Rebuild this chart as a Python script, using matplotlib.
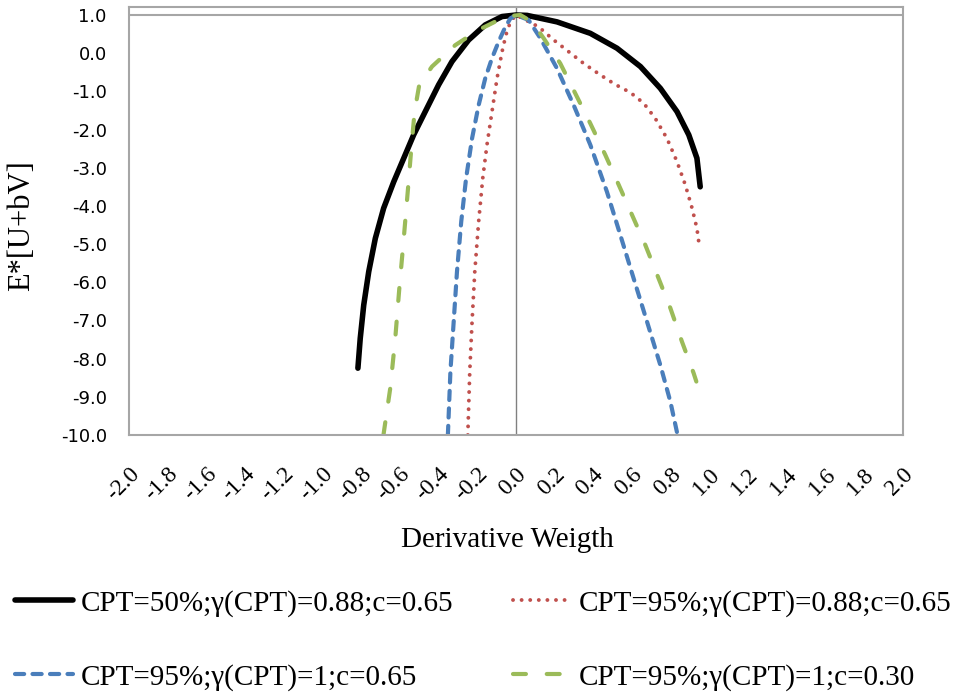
import matplotlib
matplotlib.use("Agg")
import matplotlib.pyplot as plt
import matplotlib.transforms as mtransforms

# series
black_x = [-0.817, -0.805, -0.787, -0.761, -0.727, -0.684, -0.632, -0.580, -0.529,
           -0.469, -0.400, -0.331, -0.245, -0.159, -0.072, 0.0, 0.057, 0.212, 0.384,
           0.522, 0.643, 0.746, 0.832, 0.893, 0.935, 0.952]
black_y = [-8.25, -7.47, -6.60, -5.72, -4.85, -4.06, -3.37, -2.75, -2.14,
           -1.53, -0.83, -0.22, 0.345, 0.74, 0.96, 1.0, 0.99, 0.82, 0.52,
           0.13, -0.35, -0.92, -1.53, -2.14, -2.75, -3.50]

red_x = [-0.249, -0.239, -0.227, -0.213, -0.193, -0.172, -0.150, -0.124, -0.098,
         -0.072, -0.052, -0.029, 0.0, 0.117, 0.195, 0.272, 0.350, 0.436, 0.513,
         0.591, 0.660, 0.720, 0.780, 0.832, 0.875, 0.910, 0.935, 0.949]
red_y = [-10.0, -8.34, -7.03, -5.72, -4.41, -3.28, -2.40, -1.53, -0.66,
         0.04, 0.48, 0.82, 1.0, 0.69, 0.345, 0.04, -0.27, -0.57, -0.82,
         -1.03, -1.31, -1.71, -2.23, -2.84, -3.45, -4.06, -4.59, -5.11]

blue_x = [-0.352, -0.339, -0.322, -0.305, -0.283, -0.258, -0.227, -0.193, -0.159,
          -0.124, -0.090, -0.055, -0.029, 0.0, 0.065, 0.126, 0.212, 0.298, 0.384,
          0.470, 0.539, 0.608, 0.677, 0.746, 0.798, 0.835]
blue_y = [-10.0, -8.34, -7.03, -5.72, -4.41, -3.28, -2.23, -1.36, -0.66,
          -0.13, 0.30, 0.69, 0.91, 1.0, 0.87, 0.39, -0.40, -1.36, -2.40,
          -3.63, -4.76, -5.90, -7.03, -8.17, -9.13, -10.0]

green_x = [-0.685, -0.650, -0.624, -0.603, -0.580, -0.558, -0.541, -0.524, -0.500,
           -0.434, -0.314, -0.193, -0.090, -0.020, 0.022, 0.083, 0.143, 0.229,
           0.306, 0.384, 0.462, 0.531, 0.600, 0.668, 0.737, 0.798, 0.858, 0.918, 0.932]
green_y = [-10.0, -8.78, -7.47, -6.16, -4.85, -3.54, -2.49, -1.53, -0.83,
           -0.35, 0.21, 0.61, 0.87, 0.98, 1.0, 0.82, 0.39, -0.27,
           -1.05, -1.84, -2.67, -3.45, -4.24, -5.02, -5.90, -6.68, -7.56, -8.38, -8.60]

labels = ["CPT=50%;γ(CPT)=0.88;c=0.65",
          "CPT=95%;γ(CPT)=0.88;c=0.65",
          "CPT=95%;γ(CPT)=1;c=0.65",
          "CPT=95%;γ(CPT)=1;c=0.30"]

x_ticks = [round(-2.0 + 0.2 * i, 1) for i in range(21)]
y_ticks = list(range(-10, 2))

serif = "Liberation Serif"

fig = plt.figure(figsize=(9.58, 6.98), dpi=100)
W, H = 958, 698
ax = fig.add_axes([129 / W, 1 - 435 / H, (903 - 129) / W, (435 - 7) / H])

l1, = ax.plot(black_x, black_y, color="black", lw=4, solid_capstyle="round",
              solid_joinstyle="round", label=labels[0])
l2, = ax.plot(red_x, red_y, color="#C0504D", lw=2.8, linestyle=(0, (0.01, 2.2)),
              dash_capstyle="round", label=labels[1])
l3, = ax.plot(blue_x, blue_y, color="#4A7EBB", lw=3, linestyle=(0, (2.2, 2.0)),
              dash_capstyle="round", label=labels[2])
l4, = ax.plot(green_x, green_y, color="#9BBB59", lw=3, linestyle=(0, (3.1, 5.0)),
              dash_capstyle="round", label=labels[3])

ax.set_xlim(-2.0, 2.0)
ax.set_ylim(-10.0, 1.0 + 8 / 38.18)
ax.axvline(0, color="#808080", lw=1, zorder=0)
ax.axhline(1.0, color="#A6A6A6", lw=1.5, zorder=0)
for s in ax.spines.values():
    s.set_color("#A6A6A6")
    s.set_linewidth(1.5)

ax.set_xticks(x_ticks)
ax.set_xticklabels([f"{v:.1f}" for v in x_ticks], rotation=45, ha="right",
                   va="center", rotation_mode="anchor", fontfamily=serif, fontsize=17)
ax.set_yticks(y_ticks)
ax.set_yticklabels([f"{v:.1f}" for v in y_ticks], fontfamily="DejaVu Sans", fontsize=13)
ax.tick_params(axis="x", length=0, pad=26)
ax.tick_params(axis="y", length=0, pad=16)
shift = mtransforms.ScaledTranslation(7 / 100, 0, fig.dpi_scale_trans)
for lab in ax.get_xticklabels():
    lab.set_transform(lab.get_transform() + shift)

fig.text(507 / W, 1 - 540 / H, "Derivative Weigth", ha="center", va="center",
         fontfamily=serif, fontsize=21)
fig.text(22 / W, 1 - 226 / H, "E*[U+bV]", ha="center", va="center", rotation=90,
         fontfamily=serif, fontsize=22)

leg_kw = dict(frameon=False, prop={"family": serif, "size": 21}, handlelength=2.0,
              handletextpad=0.25, labelspacing=1.6, borderpad=0, borderaxespad=0)
leg1 = fig.legend([l1, l3], [labels[0], labels[2]], loc="upper left",
                  bbox_to_anchor=(15 / W, 1 - 590 / H), **leg_kw)
leg2 = fig.legend([l2, l4], [labels[1], labels[3]], loc="upper left",
                  bbox_to_anchor=(513 / W, 1 - 590 / H), **leg_kw)

fig.savefig("out.png", dpi=100)
